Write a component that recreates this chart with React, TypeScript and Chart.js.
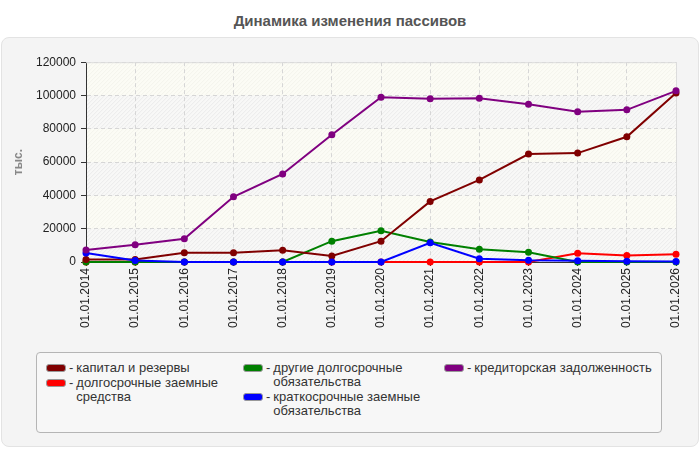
import { useEffect, useRef } from "react"
import { Chart, registerables } from "chart.js"

Chart.register(...registerables)

const FONT = "'Liberation Sans', Arial, sans-serif"

const labels = [
  "01.01.2014", "01.01.2015", "01.01.2016", "01.01.2017", "01.01.2018", "01.01.2019", "01.01.2020",
  "01.01.2021", "01.01.2022", "01.01.2023", "01.01.2024", "01.01.2025", "01.01.2026",
]

// тыс. руб.
const kapital = [1500, 1500, 5500, 5500, 7000, 3600, 12500, 36400, 49300, 64800, 65400, 75200, 101500]
const dolgZaem = [0, 0, 0, 0, 0, 0, 0, 0, 0, 0, 5200, 3900, 4600]
const drugieDolg = [0, 0, 0, 0, 0, 12500, 18700, 12000, 7700, 5900, 0, 0, 0]
const kratkZaem = [5400, 900, 0, 0, 0, 0, 0, 11500, 2000, 1000, 800, 400, 300]
const kreditor = [7200, 10300, 13900, 39200, 52900, 76400, 99000, 98000, 98300, 94700, 90300, 91400, 102800]

const yTicks = [0, 20000, 40000, 60000, 80000, 100000, 120000]

const series = [
  { label: "капитал и резервы", data: kapital, color: "#800000", order: 2 },
  { label: "долгосрочные заемные средства", data: dolgZaem, color: "#ff0000", order: 4 },
  { label: "другие долгосрочные обязательства", data: drugieDolg, color: "#008000", order: 3 },
  { label: "краткосрочные заемные обязательства", data: kratkZaem, color: "#0000ff", order: 1 },
  { label: "кредиторская задолженность", data: kreditor, color: "#800080", order: 0 },
]

// legend columns as in the original (indices into series)
const legendCols = [[0, 1], [2, 3], [4]]

const bandsPlugin = {
  id: "bands",
  beforeDraw(chart: any) {
    const { ctx, chartArea: a, scales } = chart
    const y = scales.y
    ctx.save()
    for (let i = 0; i < yTicks.length - 1; i++) {
      const top = y.getPixelForValue(yTicks[i + 1])
      const bot = y.getPixelForValue(yTicks[i])
      const dark = i % 2 === 0
      ctx.fillStyle = dark ? "#f8f8f7" : "#fcfcf5"
      ctx.fillRect(a.left, top, a.right - a.left, bot - top)
      ctx.save()
      ctx.beginPath()
      ctx.rect(a.left, top, a.right - a.left, bot - top)
      ctx.clip()
      ctx.strokeStyle = dark ? "#ebebeb" : "#f3f3ec"
      ctx.lineWidth = 1
      const h = a.bottom - a.top
      ctx.beginPath()
      for (let t = a.left - h; t < a.right; t += 4) {
        ctx.moveTo(t, a.bottom)
        ctx.lineTo(t + h, a.top)
      }
      ctx.stroke()
      ctx.restore()
    }
    ctx.restore()
  },
  beforeDatasetsDraw(chart: any) {
    const { ctx, chartArea: a } = chart
    ctx.save()
    ctx.strokeStyle = "#dcdcdc"
    ctx.lineWidth = 1
    ctx.beginPath()
    ctx.moveTo(a.left, a.top + 0.5)
    ctx.lineTo(a.right + 0.5, a.top + 0.5)
    ctx.lineTo(a.right + 0.5, a.bottom)
    ctx.stroke()
    ctx.restore()
  },
}

export default function App() {
  const chartRef = useRef<HTMLCanvasElement>(null)
  const chartInstance = useRef<Chart | null>(null)

  useEffect(() => {
    if (!chartRef.current) return
    const ctx = chartRef.current.getContext("2d")
    if (!ctx) return
    if (chartInstance.current) chartInstance.current.destroy()

    Chart.defaults.font.family = FONT

    chartInstance.current = new Chart(ctx, {
      type: "line",
      data: {
        labels: labels,
        datasets: series.map((s) => ({
          label: s.label,
          data: s.data,
          borderColor: s.color,
          backgroundColor: s.color,
          pointBackgroundColor: s.color,
          pointBorderColor: s.color,
          pointRadius: 3.5,
          pointBorderWidth: 0,
          borderWidth: 2,
          tension: 0,
          fill: false,
          clip: false,
          order: s.order,
        })),
      },
      options: {
        animation: false,
        responsive: true,
        maintainAspectRatio: false,
        layout: { padding: { top: 12, right: 24, left: 0, bottom: 0 } },
        plugins: {
          legend: { display: false },
          tooltip: { enabled: false },
        },
        scales: {
          x: {
            offset: false,
            grid: { color: "#d6d6d6", tickLength: 4, tickColor: "#333", tickBorderDash: [] },
            border: { color: "#333", dash: [4, 3] },
            ticks: { color: "#222", font: { size: 12 }, minRotation: 90, maxRotation: 90, padding: 2, autoSkip: false },
            afterFit: (scale: any) => {
              scale.height = 78
            },
          },
          y: {
            min: 0,
            max: 120000,
            grid: { color: "#d6d6d6", tickLength: 5, tickColor: "#333", tickBorderDash: [] },
            border: { color: "#333", dash: [4, 3] },
            ticks: {
              stepSize: 20000,
              color: "#222",
              font: { size: 12 },
              padding: 5,
              callback: (v: any) => String(v),
            },
            title: {
              display: true,
              text: "тыс.",
              color: "#888",
              font: { size: 12, weight: "bold" },
              padding: { top: 11, bottom: 0 },
            },
            afterFit: (scale: any) => {
              scale.width = 86
            },
          },
        },
      },
      plugins: [bandsPlugin],
    })

    return () => {
      if (chartInstance.current) {
        chartInstance.current.destroy()
        chartInstance.current = null
      }
    }
  }, [])

  return (
    <div style={{ position: "absolute", left: 0, top: 0, width: 700, height: 450, background: "#fff", fontFamily: FONT, overflow: "hidden" }}>
      <div style={{ position: "absolute", top: 12, left: 0, width: 700, textAlign: "center", fontWeight: "bold", fontSize: 15, color: "#555" }}>
        Динамика изменения пассивов
      </div>
      <div
        style={{
          position: "absolute", left: 1, top: 37, width: 696, height: 408,
          background: "#f4f4f4", border: "1px solid #e3e3e3", borderRadius: 8,
        }}
      />
      <div style={{ position: "absolute", left: 0, top: 50, width: 700, height: 290 }}>
        <canvas ref={chartRef} />
      </div>
      <div
        style={{
          position: "absolute", left: 36, top: 352, width: 624, height: 79,
          background: "#f7f7f7", border: "1px solid #b5b5b5", borderRadius: 4,
        }}
      >
        {legendCols.map((col, ci) => (
          <div key={ci} style={{ position: "absolute", left: [9, 206, 407][ci], top: 8 }}>
            {col.map((si) => (
              <div key={si} style={{ display: "flex", alignItems: "flex-start", fontSize: 13, lineHeight: "14px", color: "#333", marginBottom: 1 }}>
                <span
                  style={{
                    display: "inline-block", width: 18, height: 6, marginTop: 3, flex: "none",
                    background: series[si].color, border: "1px solid #999", borderRadius: 3,
                  }}
                />
                <span style={{ margin: "0 3px 0 3px" }}>-</span>
                <span style={{ maxWidth: 188 }}>{series[si].label}</span>
              </div>
            ))}
          </div>
        ))}
      </div>
    </div>
  )
}
